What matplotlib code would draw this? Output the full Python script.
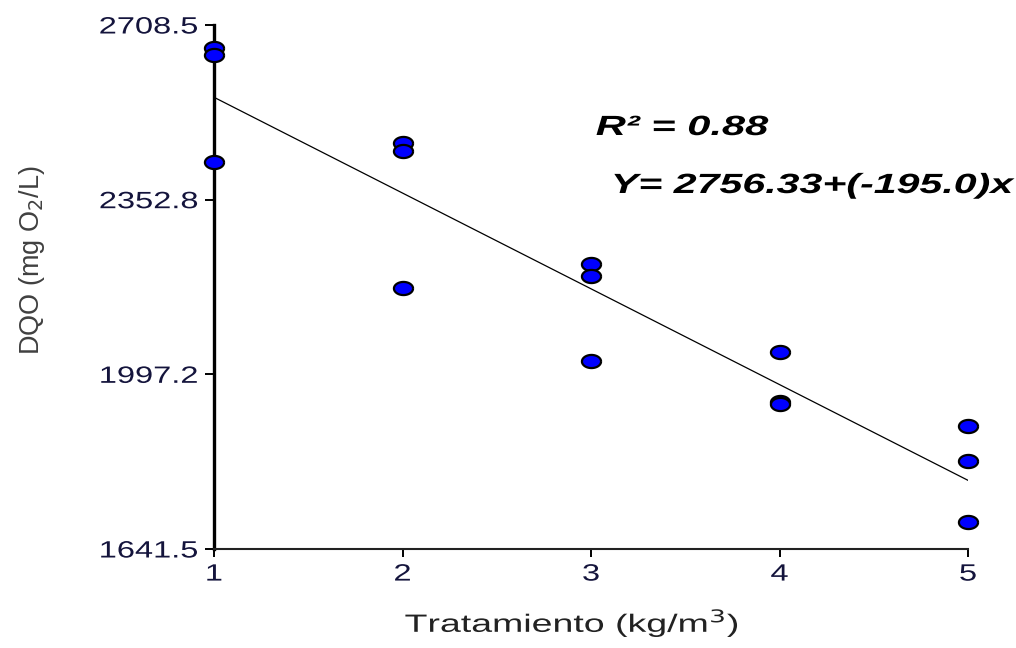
import numpy as np
import matplotlib
matplotlib.use("Agg")
import matplotlib.pyplot as plt
from matplotlib.path import Path
from matplotlib.transforms import Affine2D
from matplotlib.patheffects import AbstractPathEffect

plt.rcParams['font.family'] = ['Liberation Sans', 'DejaVu Sans']

# Observed DQO per treatment (three replicates each)
tratamiento = [1, 1, 1, 2, 2, 2, 3, 3, 3, 4, 4, 4, 5, 5, 5]
dqo = [2661.7, 2647.4, 2429.6,
       2468.9, 2452.6, 2172.4,
       2221.3, 2197.5, 2024.4,
       2042.1, 1941.5, 1936.0,
       1892.7, 1820.8, 1696.0]

intercepto = 2756.33
pendiente = -195.0
r2 = 0.88

x_ticks = [1, 2, 3, 4, 5]
y_ticks = [1641.5, 1997.2, 2352.8, 2708.5]
y_tick_labels = ["1641.5", "1997.2", "2352.8", "2708.5"]


class StretchX(AbstractPathEffect):
    """Draw text glyphs widened horizontally around an anchor edge."""

    def __init__(self, sx, anchor='center'):
        super().__init__()
        self.sx = sx
        self.anchor = anchor

    def draw_path(self, renderer, gc, tpath, affine, rgbFace=None):
        ext = tpath.transformed(affine).get_extents()
        if self.anchor == 'left':
            cx = ext.x0
        elif self.anchor == 'right':
            cx = ext.x1
        else:
            cx = 0.5 * (ext.x0 + ext.x1)
        tr = affine + Affine2D().translate(-cx, 0).scale(self.sx, 1).translate(cx, 0)
        renderer.draw_path(gc, tpath, tr, rgbFace)


W, H = 1016, 648
fig = plt.figure(figsize=(W / 100, H / 100), dpi=100)
ax = fig.add_axes([214 / W, 1 - 549 / H, 754 / W, 524 / H])

# fitted regression line
xf = np.array([1.0, 5.0])
ax.plot(xf, intercepto + pendiente * xf, color='black', lw=0.9, zorder=2)

# slightly wide ellipse marker
t = np.linspace(0, 2 * np.pi, 40)
ell = Path(np.column_stack([0.8 * np.cos(t), 0.55 * np.sin(t)]))
ax.scatter(tratamiento, dqo, marker=ell, s=190, facecolor='#0000ff',
           edgecolor='black', linewidth=1.6, zorder=3, clip_on=False)

ax.set_xlim(1, 5)
ax.set_ylim(1641.5, 2708.5)
ax.set_xticks(x_ticks)
ax.set_xticklabels([str(v) for v in x_ticks])
ax.set_yticks(y_ticks)
ax.set_yticklabels(y_tick_labels)

for s in ['top', 'right']:
    ax.spines[s].set_visible(False)
ax.spines['left'].set_linewidth(2.4)
ax.spines['bottom'].set_linewidth(1.5)
ax.spines['left'].set_color('black')
ax.spines['bottom'].set_color('#222222')

tick_col = '#14143c'
ax.tick_params(axis='y', direction='out', length=6.5, width=1.4, labelsize=17,
               labelcolor=tick_col, pad=5)
ax.tick_params(axis='x', direction='out', length=6, width=1.4, labelsize=17,
               labelcolor=tick_col, pad=4.5)
for lab in ax.get_yticklabels():
    lab.set_path_effects([StretchX(1.38, 'right')])
for lab in ax.get_xticklabels():
    lab.set_path_effects([StretchX(1.38, 'center')])

xl = ax.set_xlabel('Tratamiento (kg/m$^3$)', fontsize=18, color='#222222',
                   va='baseline')
xl.set_path_effects([StretchX(1.5, 'center')])
ax.xaxis.set_label_coords(0.4748, -0.1584)

yl = ax.set_ylabel('DQO (mg O$_2$/L)', fontsize=19.5, color='#404040',
                   va='center')
ax.yaxis.set_label_coords(-0.2414, 0.5515)

t1 = fig.text(596 / W, 1 - 135 / H, f'R² = {r2:.2f}', fontsize=20,
              fontweight='bold', fontstyle='italic', color='black',
              va='baseline', ha='left')
t1.set_path_effects([StretchX(1.5, 'left')])
t2 = fig.text(612 / W, 1 - 193 / H, f'Y= {intercepto:.2f}+({pendiente:.1f})x',
              fontsize=20, fontweight='bold', fontstyle='italic', color='black',
              va='baseline', ha='left')
t2.set_path_effects([StretchX(1.48, 'left')])

fig.savefig('out.png', dpi=100)
